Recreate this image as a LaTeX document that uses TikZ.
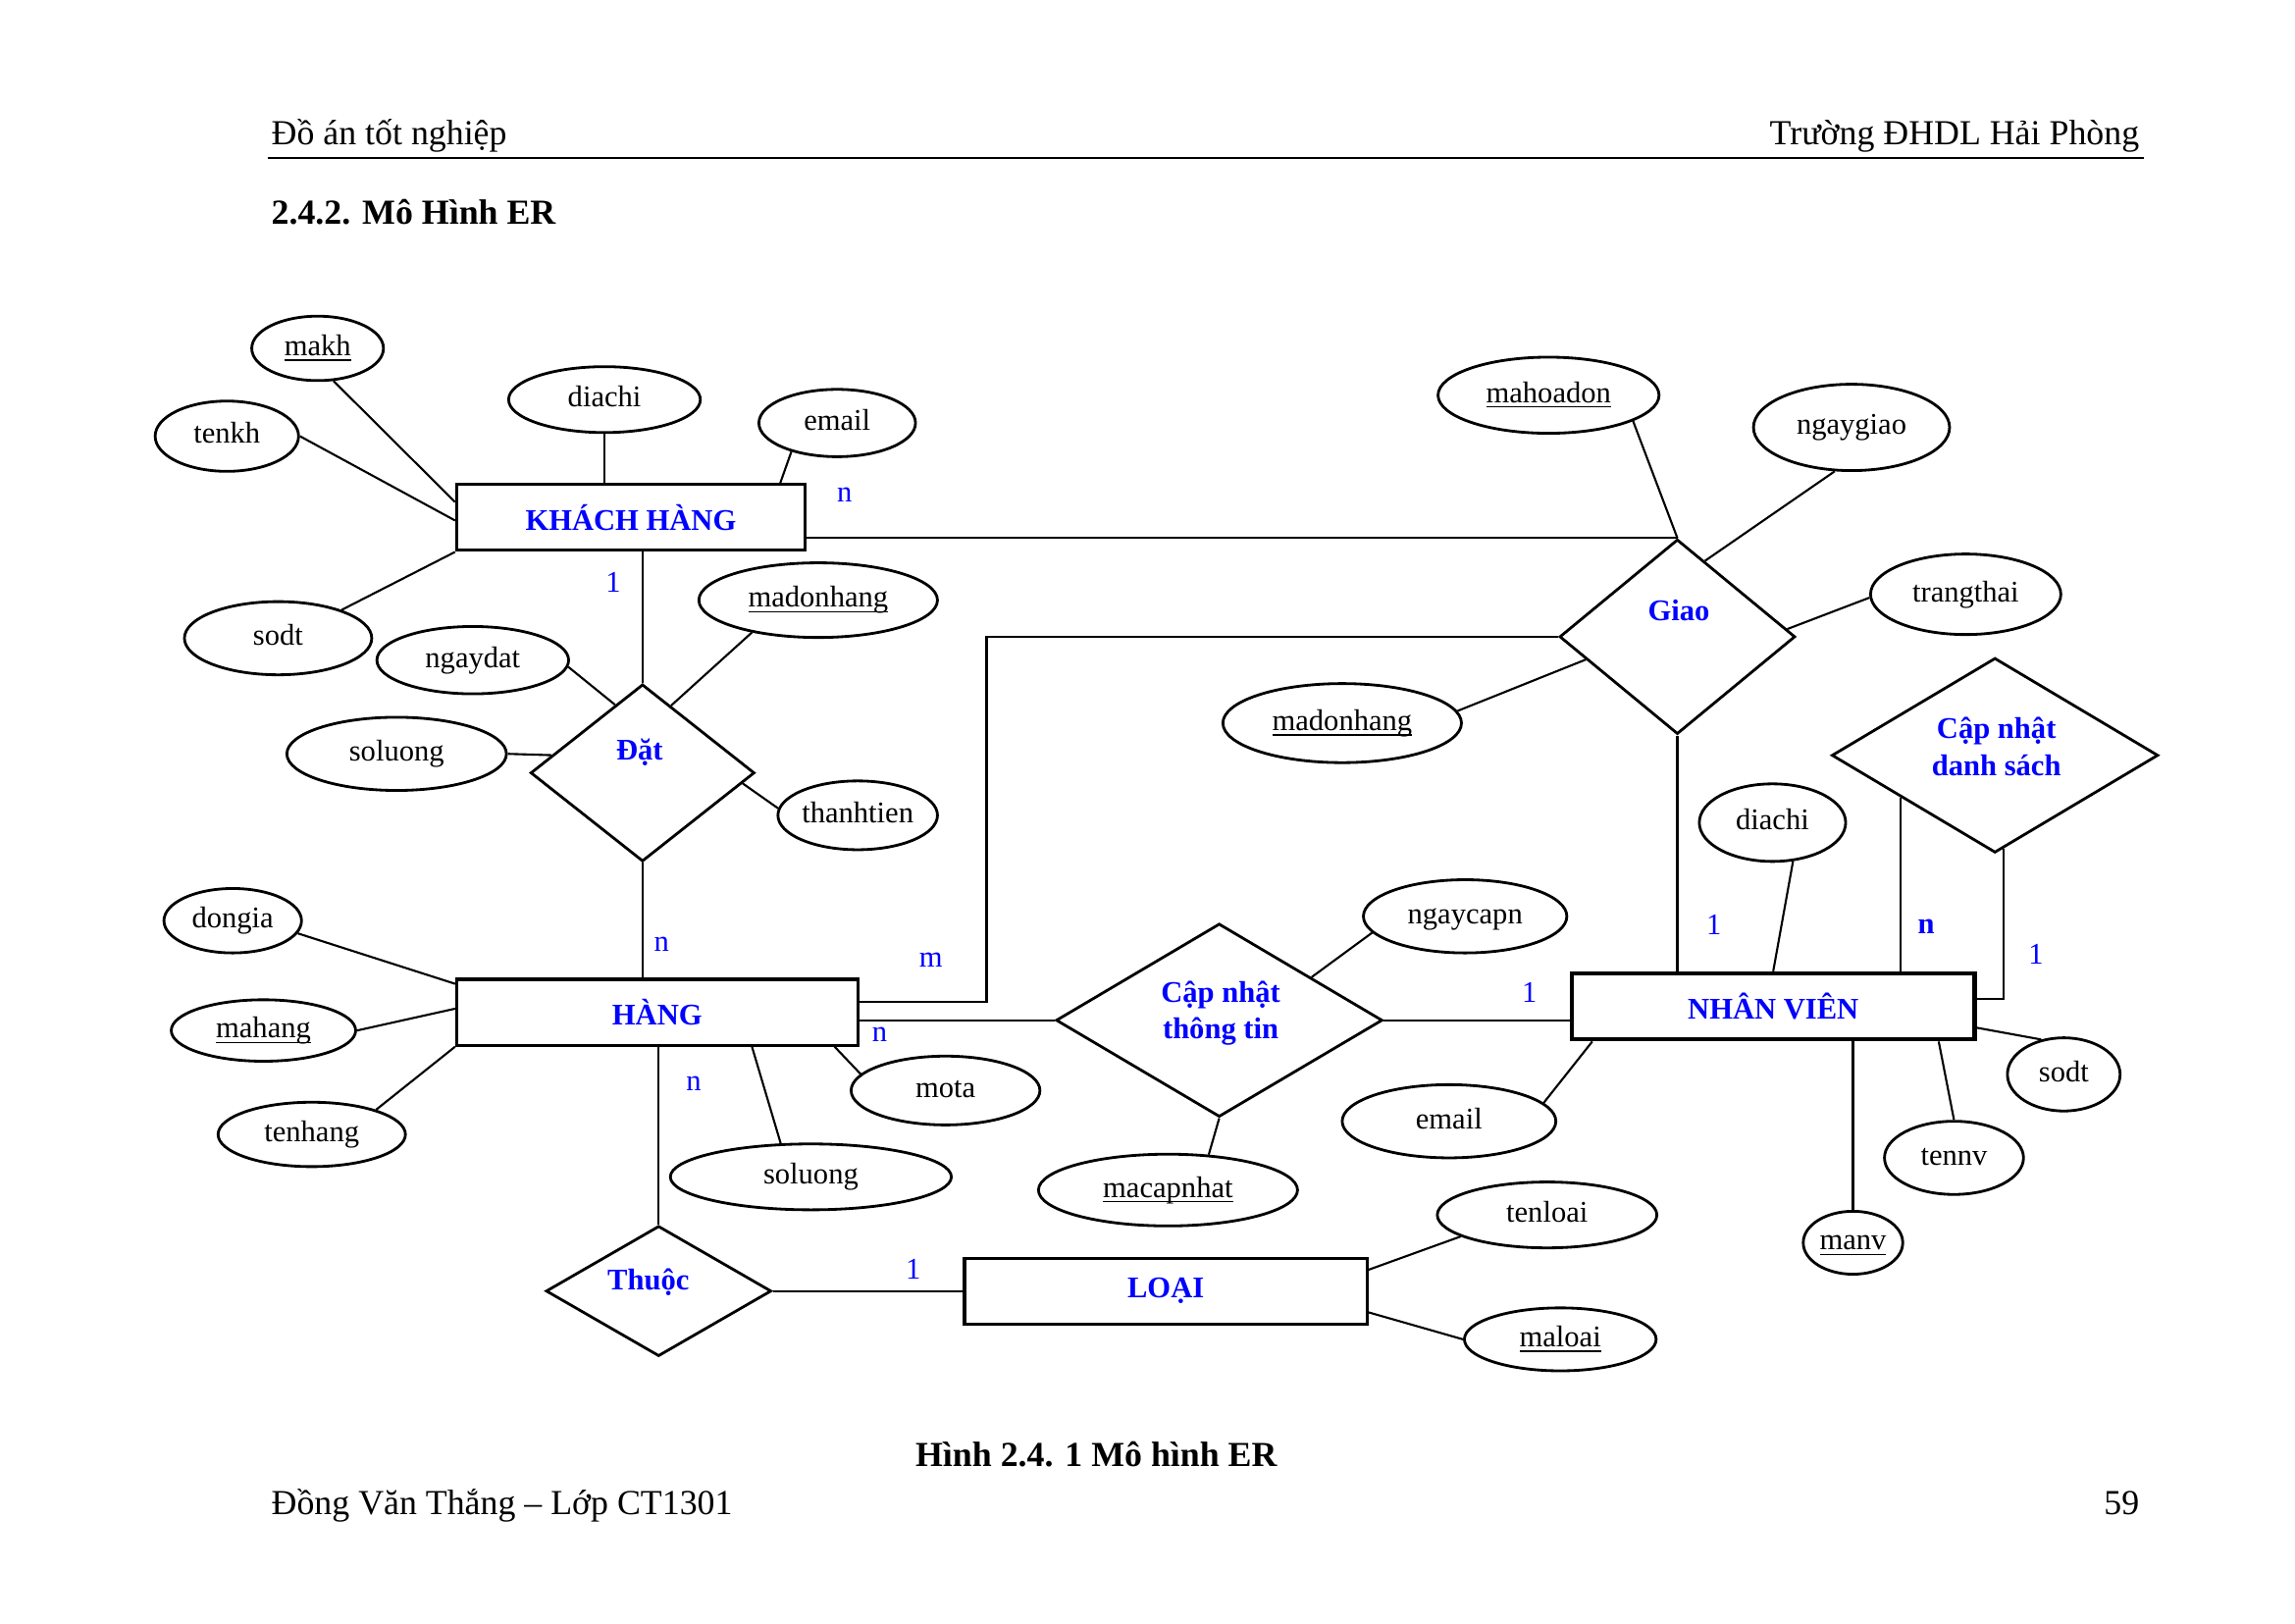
\documentclass[tikz,border=0pt]{standalone}
\usepackage{amsmath}
\usepackage{fontspec}
\setmainfont{Liberation Serif}
\usepackage{xcolor}
\usepackage{tikz}
\usetikzlibrary{calc}
\usetikzlibrary{shapes.geometric,positioning}

\newcommand{\dpx}{0.014917cm}
\newcommand{\khoa}[1]{\underline{\smash[b]{#1}}}

\begin{document}
\begin{tikzpicture}[x=\dpx,y=-\dpx,
		every node/.style={font=\fontsize{8.7}{10.4}\selectfont},
		lnk/.style={line width=0.6pt},
		att/.style 2 args={ellipse,draw,line width=0.8pt,inner sep=0pt,minimum width=#1*\dpx,minimum height=#2*\dpx,text height=6pt,text depth=1.8pt},
		ent/.style={rectangle,draw,line width=0.9pt,minimum width=#1*\dpx,minimum height=45*\dpx,text=blue,font=\fontsize{8.7}{10.4}\selectfont\bfseries},
		rel/.style 2 args={diamond,draw,line width=0.8pt,inner sep=0pt,minimum width=#1*\dpx,minimum height=#2*\dpx},
		reltxt/.style={text=blue,align=center,font=\fontsize{8.7}{10.6}\selectfont\bfseries},
		card/.style={text=blue},
		page/.style={inner sep=0pt,font=\fontsize{10.2}{12}\selectfont}]
		\useasboundingbox (0,0) rectangle (1568,1109);
		% page header
		\node[page,anchor=base west] (hdrL) at (185,99) {Đồ án tốt nghiệp};
		\node[page,anchor=base east] (hdrR) at (1462,99) {Trường ĐHDL Hải Phòng};
		\draw[line width=0.4pt] (183,108) -- (1465,108);
		\node[page,font=\fontsize{10.2}{12}\selectfont\bfseries,anchor=base west] (sec) at (185,153) {2.4.2. Mô Hình ER};
		% entities
		\node[ent=238] (kh) at (431,353.5) {KHÁCH HÀNG};
		\node[ent=274] (hang) at (449,691.5) {HÀNG};
		\node[ent=275,line width=1.3pt] (nv) at (1211.5,687.5) {NHÂN VIÊN};
		\node[ent=275] (loai) at (796.5,882) {LOẠI};
		% relationships
		\node[rel={153}{121}] (dat) at (439,528) {};
		\node[reltxt] (datT) at (437,514) {Đặt};
		\node[rel={161}{133}] (giao) at (1146,435) {};
		\node[reltxt] (giaoT) at (1147,417) {Giao};
		\node[rel={223}{133}] (cnds) at (1363,516) {};
		\node[reltxt] (cndsT) at (1364,510) {Cập nhật\\danh sách};
		\node[rel={223}{132}] (cntt) at (833,697) {};
		\node[reltxt] (cnttT) at (834,692) {Cập nhật\\thông tin};
		\node[rel={154}{89}] (thuoc) at (450,882) {};
		\node[reltxt] (thuocT) at (443,876) {Thuộc};
		% attributes
		\node[att={90}{44}] (makh) at (217,238) {\khoa{makh}};
		\node[att={98}{48}] (tenkh) at (155,298) {tenkh};
		\node[att={131}{45}] (diachi1) at (413,273) {diachi};
		\node[att={107}{46}] (email1) at (572,289) {email};
		\node[att={128}{50}] (sodt1) at (190,436) {sodt};
		\node[att={131}{46}] (ngaydat) at (323,451) {ngaydat};
		\node[att={163}{51}] (madh1) at (559,410) {\khoa{madonhang}};
		\node[att={150}{50}] (soluong1) at (271,515) {soluong};
		\node[att={109}{47}] (thanhtien) at (586,557) {thanhtien};
		\node[att={151}{52}] (mahd) at (1058,270) {\khoa{mahoadon}};
		\node[att={134}{59}] (ngaygiao) at (1265,292) {ngaygiao};
		\node[att={130}{55}] (trangthai) at (1343,406) {trangthai};
		\node[att={163}{54}] (madh2) at (917,494) {\khoa{madonhang}};
		\node[att={100}{53}] (diachi2) at (1211,562) {diachi};
		\node[att={139}{50}] (ngaycapn) at (1001,626) {ngaycapn};
		\node[att={94}{44}] (dongia) at (159,629) {dongia};
		\node[att={126}{42}] (mahang) at (180,704) {\khoa{mahang}};
		\node[att={128}{44}] (tenhang) at (213,775) {tenhang};
		\node[att={129}{47}] (mota) at (646,745) {mota};
		\node[att={192}{45}] (soluong2) at (554,804) {soluong};
		\node[att={177}{49}] (macn) at (798,813) {\khoa{macapnhat}};
		\node[att={146}{50}] (email2) at (990,766) {email};
		\node[att={77}{50}] (sodt2) at (1410,734) {sodt};
		\node[att={95}{50}] (tennv) at (1335,791) {tennv};
		\node[att={68}{43}] (manv) at (1266,849) {\khoa{manv}};
		\node[att={150}{45}] (tenloai) at (1057,830) {tenloai};
		\node[att={131}{43}] (maloai) at (1066,915) {\khoa{maloai}};
		% KHACH HANG
		\draw[lnk] (makh.-64) -- (kh.175);
		\draw[lnk] (tenkh.east) -- (kh.181);
		\draw[lnk] (diachi1.south) -- (diachi1.south |- kh.north);
		\draw[lnk] (email1.212) -- (kh.13);
		\draw[lnk] (sodt1.24) -- (kh.south west);
		\draw[lnk] (kh.south -| dat.north) -- (dat.north);
		\draw[lnk] (giao.north) -- (giao.north -| kh.east);
		% Dat
		\draw[lnk] (ngaydat.-4) -- (dat.112);
		\draw[lnk] (madh1.206) -- (dat.67);
		\draw[lnk] (soluong1.east) -- (dat.169);
		\draw[lnk] (thanhtien.175) -- (dat.-6);
		\draw[lnk] (dat.south) -- (dat.south |- hang.north);
		% Giao
		\draw[lnk] (hang.3) -- ++(87,0) |- (giao.west);
		\draw[lnk] (madh2.6) -- (giao.-166);
		\draw[lnk] (mahd.-17) -- (giao.north);
		\draw[lnk] (ngaygiao.-111) -- (giao.70);
		\draw[lnk] (trangthai.182) -- (giao.4);
		\draw[lnk] (giao.south) -- (giao.south |- nv.north);
		% NHAN VIEN
		\draw[lnk] (diachi2.-62) -- (nv.north);
		\draw[lnk] (cnds.204) -- (cnds.204 |- nv.north);
		\draw[lnk] (nv.2) -| (cnds.-85);
		\draw[lnk] (email2.11) -- (nv.191);
		\draw[lnk] (manv.north) -- (manv.north |- nv.south);
		\draw[lnk] (tennv.north) -- (nv.-12);
		\draw[lnk] (sodt2.123) -- (nv.-6);
		% Cap nhat thong tin
		\draw[lnk] (cntt.west) -- (cntt.west -| hang.east);
		\draw[lnk] (cntt.east) -- (cntt.east -| nv.west);
		\draw[lnk] (ngaycapn.190) -- (cntt.25);
		\draw[lnk] (macn.41) -- (cntt.south);
		% HANG
		\draw[lnk] (dongia.-11) -- (hang.172);
		\draw[lnk] (mahang.east) -- (hang.179);
		\draw[lnk] (tenhang.21) -- (hang.south west);
		\draw[lnk] (mota.169) -- (hang.-11);
		\draw[lnk] (soluong2.132) -- (hang.-20);
		\draw[lnk] (thuoc.north) -- (thuoc.north |- hang.south);
		% LOAI
		\draw[lnk] (thuoc.east) -- (thuoc.east -| loai.west);
		\draw[lnk] (tenloai.194) -- (loai.6);
		\draw[lnk] (maloai.west) -- (loai.-6);
		% cardinalities
		\node[card] (c1) at (577,338) {n};
		\node[card] (c2) at (419,398) {1};
		\node[card] (c3) at (452,645) {n};
		\node[card] (c4) at (636,656) {m};
		\node[card] (c5) at (601,707) {n};
		\node[card] (c6) at (474,740) {n};
		\node[card] (c7) at (624,867) {1};
		\node[card] (c8) at (1045,678) {1};
		\node[card] (c9) at (1171,632) {1};
		\node[card,font=\fontsize{8.7}{10.4}\selectfont\bfseries] (c10) at (1316,633) {n};
		\node[card] (c11) at (1391,652) {1};
		% caption and footer
		\node[page,font=\fontsize{10.2}{12}\selectfont\bfseries,anchor=base] (cap) at (749,1002) {Hình 2.4. 1 Mô hình ER};
		\node[page,anchor=base west] (ftL) at (185,1035) {Đồng Văn Thắng – Lớp CT1301};
		\node[page,anchor=base east] (ftR) at (1462,1035) {59};
	\end{tikzpicture}
\end{document}
